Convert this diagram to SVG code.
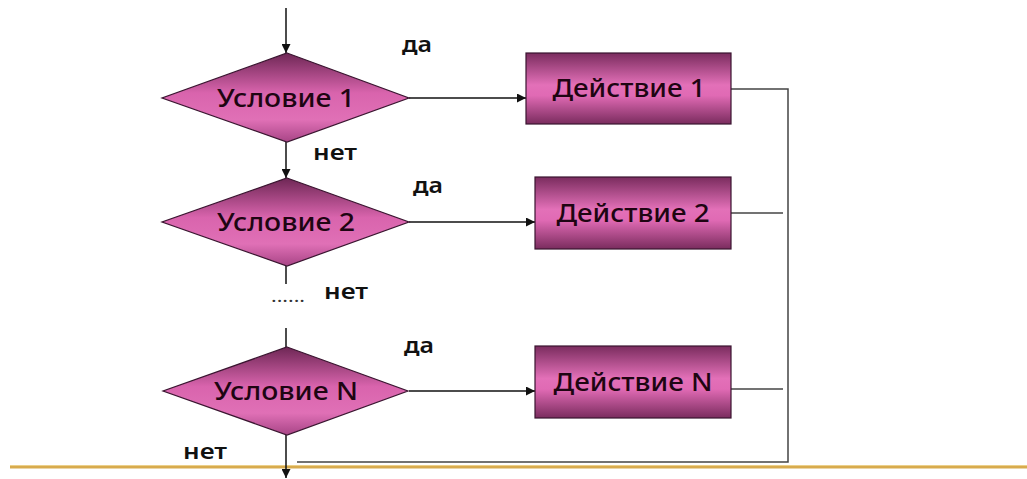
<svg xmlns="http://www.w3.org/2000/svg" width="1027" height="479" viewBox="0 0 1027 479">
<defs>
<linearGradient id="g" x1="0" y1="0" x2="0" y2="1">
<stop offset="0" stop-color="#7a2c5e"/>
<stop offset="0.45" stop-color="#e370b8"/>
<stop offset="0.6" stop-color="#e06ab4"/>
<stop offset="1" stop-color="#7a2c5e"/>
</linearGradient>
<linearGradient id="gd" x1="0" y1="0" x2="0" y2="1">
<stop offset="0" stop-color="#6e2755"/>
<stop offset="0.45" stop-color="#d964ad"/>
<stop offset="0.75" stop-color="#e070b6"/>
<stop offset="1" stop-color="#a84586"/>
</linearGradient>
<marker id="ah" viewBox="0 0 10 10" refX="10" refY="5" markerWidth="9" markerHeight="9" markerUnits="userSpaceOnUse" orient="auto">
<path d="M0,0 L10,5 L0,10 z" fill="#111"/>
</marker>
</defs>
<style>
.dia{fill:url(#gd);stroke:#3a1530;stroke-width:1.2}
.box{fill:url(#g);stroke:#3a1530;stroke-width:1.2}
.nt{font-family:"Noto Sans","DejaVu Sans",sans-serif;font-size:25px;font-weight:500;fill:#1e0512;text-anchor:middle}
.lb{font-family:"Noto Sans","DejaVu Sans",sans-serif;font-size:22px;font-weight:600;fill:#111}
.ar{stroke:#111;stroke-width:1.5;fill:none}
.rt{stroke:#444;stroke-width:1.5;fill:none}
</style>
<rect width="1027" height="479" fill="#fff"/>
<line x1="10" y1="467" x2="1027" y2="467" stroke="#d8ab4e" stroke-width="3"/>
<line x1="10" y1="465.5" x2="1027" y2="465.5" stroke="#ecd08a" stroke-width="1"/>
<g id="connectors">
<line class="ar" x1="286" y1="8" x2="286" y2="53" marker-end="url(#ah)"/>
<line class="ar" x1="286" y1="142" x2="286" y2="178" marker-end="url(#ah)"/>
<line class="ar" x1="286" y1="266" x2="286" y2="284"/>
<line class="ar" x1="286" y1="328" x2="286" y2="347"/>
<line class="ar" x1="286" y1="435" x2="286" y2="478" marker-end="url(#ah)"/>
<line class="ar" x1="409" y1="98" x2="526" y2="98" marker-end="url(#ah)"/>
<line class="ar" x1="409" y1="222" x2="535" y2="222" marker-end="url(#ah)"/>
<line class="ar" x1="409" y1="391" x2="535" y2="391" marker-end="url(#ah)"/>
<polyline class="rt" points="731,89 788,89 788,462 297,462"/>
<line class="rt" x1="731" y1="213" x2="783" y2="213"/>
<line class="rt" x1="731" y1="389" x2="783" y2="389"/>
</g>
<text x="271" y="302" font-family="Noto Sans, sans-serif" font-size="16" fill="#333" textLength="34" lengthAdjust="spacingAndGlyphs">......</text>
<g id="cond1">
<polygon class="dia" points="287,53 409,98 287,142 162,98"/>
<text class="nt" x="286" y="107" textLength="138" lengthAdjust="spacingAndGlyphs">Условие 1</text>
</g>
<g id="cond2">
<polygon class="dia" points="287,178 409,222 287,266 162,222"/>
<text class="nt" x="286" y="231" textLength="138" lengthAdjust="spacingAndGlyphs">Условие 2</text>
</g>
<g id="condN">
<polygon class="dia" points="287,347 408,391 287,435 163,391"/>
<text class="nt" x="286" y="400" textLength="144" lengthAdjust="spacingAndGlyphs">Условие N</text>
</g>
<g id="act1">
<rect class="box" x="526" y="53" width="205" height="71"/>
<text class="nt" x="629" y="97" textLength="153" lengthAdjust="spacingAndGlyphs">Действие 1</text>
</g>
<g id="act2">
<rect class="box" x="535" y="177" width="196" height="72"/>
<text class="nt" x="633" y="222" textLength="153" lengthAdjust="spacingAndGlyphs">Действие 2</text>
</g>
<g id="actN">
<rect class="box" x="535" y="346" width="196" height="72"/>
<text class="nt" x="633" y="391" textLength="159" lengthAdjust="spacingAndGlyphs">Действие N</text>
</g>
<g id="labels">
<text class="lb" x="402" y="52" textLength="30" lengthAdjust="spacingAndGlyphs">да</text>
<text class="lb" x="413" y="193" textLength="30" lengthAdjust="spacingAndGlyphs">да</text>
<text class="lb" x="404" y="353" textLength="30" lengthAdjust="spacingAndGlyphs">да</text>
<text class="lb" x="313" y="160" textLength="44" lengthAdjust="spacingAndGlyphs">нет</text>
<text class="lb" x="324" y="299" textLength="44" lengthAdjust="spacingAndGlyphs">нет</text>
<text class="lb" x="183" y="459" textLength="44" lengthAdjust="spacingAndGlyphs">нет</text>
</g>
</svg>
